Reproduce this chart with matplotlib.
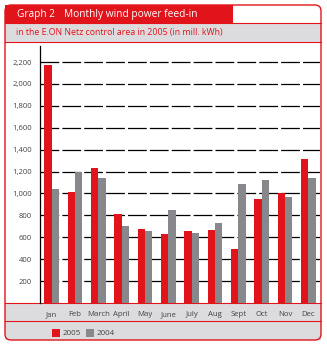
import numpy as np
import matplotlib.pyplot as plt
from matplotlib.patches import Rectangle, FancyBboxPatch

months = ['Jan', 'Feb', 'March', 'April', 'May', 'June', 'July', 'Aug', 'Sept', 'Oct', 'Nov', 'Dec']
feed_2005 = [2170, 1010, 1235, 810, 680, 630, 655, 665, 490, 950, 1000, 1315]
feed_2004 = [1040, 1200, 1140, 700, 655, 845, 635, 730, 1085, 1125, 970, 1145]
yticks = [200, 400, 600, 800, 1000, 1200, 1400, 1600, 1800, 2000, 2200]

red = '#e1141c'
grey = '#87888b'
band = '#dcdcde'
txt = '#444444'

plt.rcParams['font.family'] = ['Open Sans', 'DejaVu Sans']

W, H = 327, 351
fig = plt.figure(figsize=(W / 100, H / 100), dpi=100)

# background layer in pixel coordinates
bg = fig.add_axes([0, 0, 1, 1])
bg.set_xlim(0, W)
bg.set_ylim(H, 0)
bg.axis('off')

bg.add_patch(Rectangle((5, 303), 316, 37, facecolor=band, edgecolor='none'))
bg.add_patch(Rectangle((5, 23), 316, 19, facecolor=band, edgecolor='none'))
bg.add_patch(Rectangle((5, 5), 228, 18, facecolor=red, edgecolor='none'))
bg.plot([5, 321], [42, 42], color=red, lw=0.8)
bg.plot([5, 321], [23, 23], color=red, lw=0.8)
bg.plot([5, 321], [303, 303], color=red, lw=0.8)
bg.plot([5, 321], [321, 321], color=red, lw=0.8)
bg.add_patch(FancyBboxPatch((5, 5), 316, 335, boxstyle='round,pad=0,rounding_size=6',
                            facecolor='none', edgecolor=red, lw=1.0))

bg.text(17, 14, 'Graph 2', color='white', fontsize=7.3, va='center', ha='left')
bg.text(64, 14, 'Monthly wind power feed-in', color='white', fontsize=7.3, va='center', ha='left')
bg.text(16, 32.5, 'in the E.ON Netz control area in 2005 (in mill. kWh)', color=red,
        fontsize=6.3, va='center', ha='left')

# legend
bg.add_patch(Rectangle((52, 329), 8, 8, facecolor=red, edgecolor='none'))
bg.text(63, 333.5, '2005', color=txt, fontsize=5.8, va='center', ha='left')
bg.add_patch(Rectangle((86, 329), 8, 8, facecolor=grey, edgecolor='none'))
bg.text(97, 333.5, '2004', color=txt, fontsize=5.8, va='center', ha='left')

# main chart
x0, x1, ytop, ybot = 40, 320, 46, 303
ax = fig.add_axes([x0 / W, 1 - ybot / H, (x1 - x0) / W, (ybot - ytop) / H])
ax.patch.set_alpha(0)

x = np.arange(len(months))
w = 0.32
ax.bar(x - w / 2, feed_2005, w, color=red, zorder=3)
ax.bar(x + w / 2, feed_2004, w, color=grey, zorder=3)

ax.set_xlim(-0.5, 11.5)
ax.set_ylim(0, 2347)
ax.set_yticks(yticks)
ax.set_yticklabels([f'{v:,}' for v in yticks], fontsize=5.5, color=txt)
ax.set_xticks(x)
ax.set_xticklabels(months, fontsize=5.6, color=txt)
ax.tick_params(axis='both', length=0)
ax.tick_params(axis='y', pad=6)
ax.tick_params(axis='x', pad=6)
ax.yaxis.grid(True, color='black', lw=0.9, linestyle=(0, (15, 2.5)), zorder=1)
for s in ['top', 'right', 'bottom']:
    ax.spines[s].set_visible(False)
ax.spines['left'].set_color('black')
ax.spines['left'].set_linewidth(0.9)
ax.spines['left'].set_bounds(0, 2347)

fig.savefig('out.png', dpi=100)
